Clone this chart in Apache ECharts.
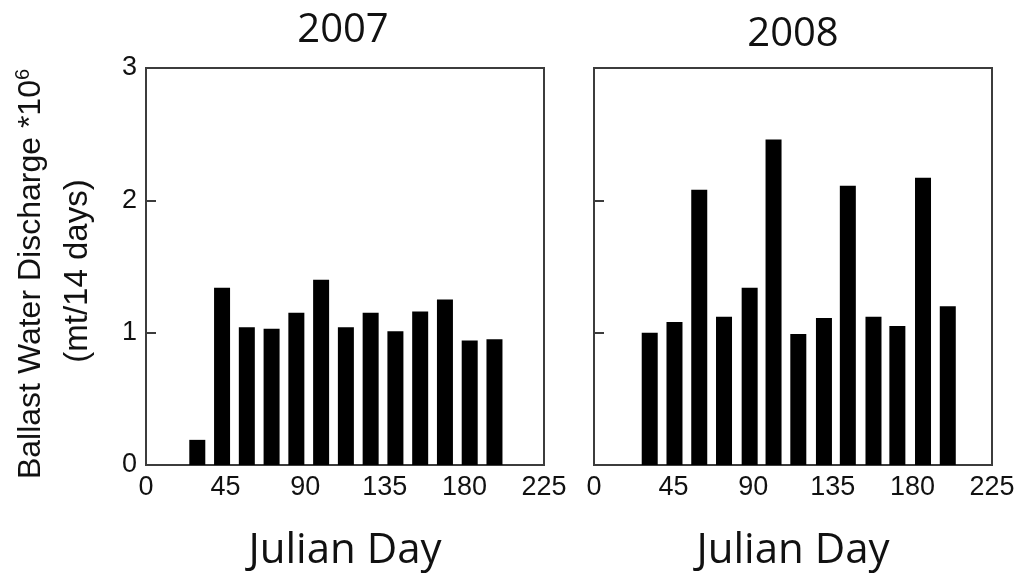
<!DOCTYPE html>
<html>
<head>
<meta charset="utf-8">
<script src="https://cdn.jsdelivr.net/npm/echarts@6/dist/echarts.min.js"></script>
<style>
html,body{margin:0;padding:0;background:#fff;}
#chart{width:1024px;height:580px;}
</style>
</head>
<body>
<div id="chart"></div>
<script>
const panelTitles = ['2007', '2008'];
const days2007 = [29, 43, 57, 71, 85, 99, 113, 127, 141, 155, 169, 183, 197];
const vals2007 = [0.19, 1.34, 1.04, 1.03, 1.15, 1.40, 1.04, 1.15, 1.01, 1.16, 1.25, 0.94, 0.95];
const days2008 = [31.5, 45.5, 59.5, 73.5, 88, 101.5, 115.5, 130, 143.5, 158, 171.5, 186, 200];
const vals2008 = [1.00, 1.08, 2.08, 1.12, 1.34, 2.46, 0.99, 1.11, 2.11, 1.12, 1.05, 2.17, 1.20];
const xTicks = [0, 45, 90, 135, 180, 225];
const yTicks = [0, 1, 2, 3];
const xAxisTitle = 'Julian Day';
const yTitleLine1 = 'Ballast Water Discharge *10';
const yTitleSup = '6';
const yTitleLine2 = '(mt/14 days)';

const sans = '"Liberation Sans", Arial, sans-serif';
const humanist = '"Open Sans", sans-serif';
const border = '#3c3c3c';

function pairs(xs, ys) { return xs.map((x, i) => [x, ys[i]]); }

const grids = [
  { left: 146, top: 68, width: 398, height: 397 },
  { left: 594, top: 68, width: 398, height: 397 }
];

function xAxis(idx) {
  return {
    type: 'value', gridIndex: idx, min: xTicks[0], max: xTicks[xTicks.length - 1], interval: 45,
    axisLine: { show: true, lineStyle: { color: border, width: 2 } },
    axisTick: { show: false },
    splitLine: { show: false },
    axisLabel: { color: '#111', fontFamily: sans, fontSize: 27, margin: 9 },
    name: xAxisTitle, nameLocation: 'middle', nameGap: 65,
    nameTextStyle: { color: '#111', fontFamily: humanist, fontSize: 42 }
  };
}
function yAxis(idx, labels) {
  return {
    type: 'value', gridIndex: idx, min: yTicks[0], max: yTicks[yTicks.length - 1], interval: 1,
    axisLine: { show: true, lineStyle: { color: border, width: 2 } },
    axisTick: { show: true, inside: true, length: 10, lineStyle: { color: border, width: 2 } },
    splitLine: { show: false },
    axisLabel: { show: labels, color: '#111', fontFamily: sans, fontSize: 27, margin: 9 }
  };
}

const chart = echarts.init(document.getElementById('chart'), null, { renderer: 'canvas' });
chart.setOption({
  animation: false,
  backgroundColor: '#fff',
  title: [
    { text: panelTitles[0], left: 338, top: 6, textAlign: 'center',
      textStyle: { fontFamily: humanist, fontSize: 40, fontWeight: 'normal', color: '#111' } },
    { text: panelTitles[1], left: 788, top: 10, textAlign: 'center',
      textStyle: { fontFamily: humanist, fontSize: 40, fontWeight: 'normal', color: '#111' } }
  ],
  grid: grids.map(g => Object.assign({ show: true, borderColor: border, borderWidth: 2, backgroundColor: 'transparent' }, g)),
  xAxis: [xAxis(0), xAxis(1)],
  yAxis: [yAxis(0, true), yAxis(1, false)],
  series: [
    { type: 'bar', xAxisIndex: 0, yAxisIndex: 0, data: pairs(days2007, vals2007), barWidth: 16,
      itemStyle: { color: '#000' } },
    { type: 'bar', xAxisIndex: 1, yAxisIndex: 1, data: pairs(days2008, vals2008), barWidth: 16,
      itemStyle: { color: '#000' } }
  ],
  graphic: [
    { type: 'text', x: 31, y: 274, rotation: Math.PI / 2,
      style: { text: '{a|' + yTitleLine1 + '}{s|' + yTitleSup + '}', align: 'center', verticalAlign: 'middle', fill: '#111',
        rich: { a: { fontFamily: sans, fontSize: 32, fill: '#111', lineHeight: 36 },
                s: { fontFamily: sans, fontSize: 20, fill: '#111', verticalAlign: 'top', lineHeight: 36 } } } },
    { type: 'text', x: 78, y: 271, rotation: Math.PI / 2,
      style: { text: yTitleLine2, align: 'center', verticalAlign: 'middle', fill: '#111',
        fontFamily: sans, fontSize: 33 } }
  ]
});
</script>
</body>
</html>
